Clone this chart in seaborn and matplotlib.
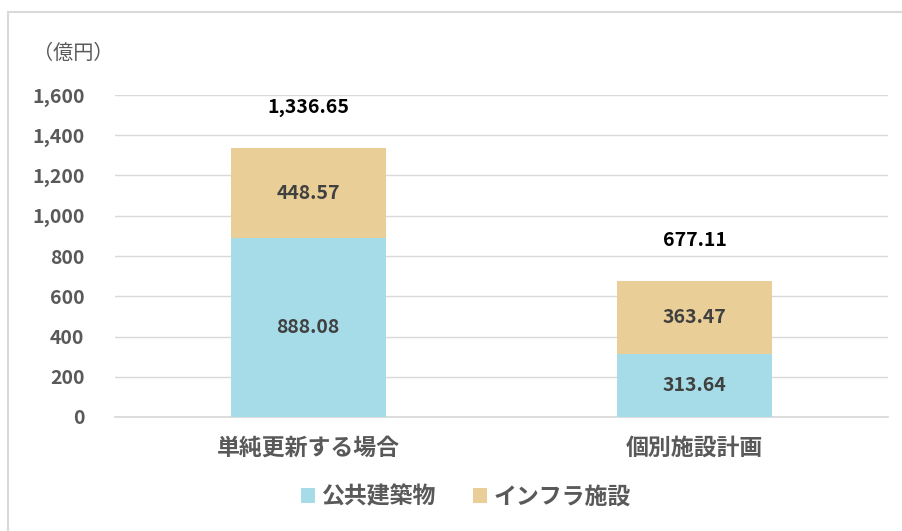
import pandas as pd
import seaborn as sns
import matplotlib.pyplot as plt
from matplotlib.patches import Patch, Rectangle

# data (億円)
categories = ["単純更新する場合", "個別施設計画"]
buildings = [888.08, 313.64]      # 公共建築物
infra = [448.57, 363.47]          # インフラ施設
totals = [1336.65, 677.11]
series_names = ["公共建築物", "インフラ施設"]

blue = "#a6dce8"
tan = "#e9cf97"
grey = "#595959"

sns.set_theme(style="white")
plt.rcParams["font.family"] = ["Noto Sans CJK JP", "DejaVu Sans"]
plt.rcParams["font.weight"] = "bold"

df = pd.DataFrame({"category": categories, "buildings": buildings,
                   "infra": infra, "total": totals})

fig = plt.figure(figsize=(9.03, 5.31), dpi=100)
ax = fig.add_axes([115 / 903, 1 - 417 / 531, (888 - 115) / 903, (417 - 95) / 531])

# stacked: total in tan first, then the lower part in blue on top of it
sns.barplot(data=df, x="category", y="total", color=tan, width=0.40,
            saturation=1, linewidth=0, ax=ax, zorder=2)
sns.barplot(data=df, x="category", y="buildings", color=blue, width=0.40,
            saturation=1, linewidth=0, ax=ax, zorder=3)

ax.set_ylim(0, 1600)
ax.set_yticks(range(0, 1601, 200))
ax.set_yticklabels([f"{v:,}" for v in range(0, 1601, 200)])
ax.yaxis.grid(True, color="#d9d9d9", linewidth=1)
ax.set_axisbelow(True)
for side in ["left", "right", "top"]:
    ax.spines[side].set_visible(False)
ax.spines["bottom"].set_color("#d9d9d9")
ax.set_xlabel("")
ax.set_ylabel("")
ax.tick_params(axis="y", length=0, pad=22, labelsize=14, labelcolor=grey)
ax.tick_params(axis="x", length=0, pad=14, labelsize=16.5, labelcolor=grey)

# segment labels
for i in range(len(categories)):
    ax.text(i, buildings[i] / 2, f"{buildings[i]:.2f}", ha="center", va="center",
            fontsize=14, fontweight="bold", color="#404040", zorder=5)
    ax.text(i, buildings[i] + infra[i] / 2, f"{infra[i]:.2f}", ha="center",
            va="center", fontsize=14, fontweight="bold", color="#404040", zorder=5)
    ax.annotate(f"{totals[i]:,.2f}", (i, totals[i]), xytext=(0, 29),
                textcoords="offset points", ha="center", va="center",
                fontsize=14, fontweight="bold", color="black")

fig.text(73 / 903, 1 - 53 / 531, "（億円）", ha="center", va="center",
         fontsize=14.5, color=grey, fontweight="normal")

handles = [Patch(facecolor=blue, edgecolor="none"), Patch(facecolor=tan, edgecolor="none")]
fig.legend(handles, series_names, loc="center", bbox_to_anchor=(466 / 903, 1 - 497 / 531),
           ncol=2, frameon=False, fontsize=16.5, handlelength=0.6, handleheight=0.6,
           handletextpad=0.3, columnspacing=1.6, labelcolor=grey)

# chart frame
fig.patches.append(Rectangle((8 / 903, -0.02), 1.0, 1 - 12 / 531 + 0.02,
                             transform=fig.transFigure, fill=False,
                             edgecolor="#d9d9d9", linewidth=1.5))

fig.savefig("out.png", dpi=100)
